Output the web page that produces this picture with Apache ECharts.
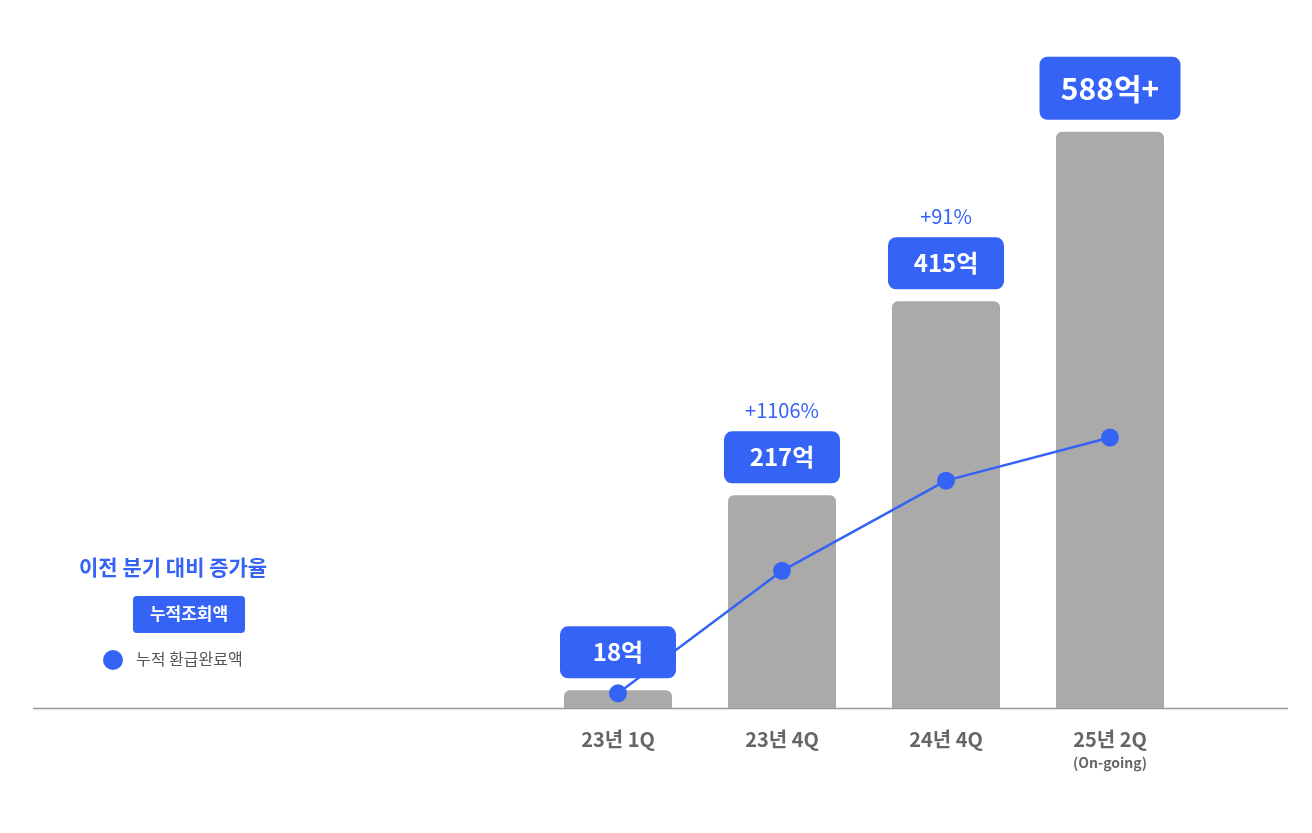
<!DOCTYPE html>
<html><head><meta charset="utf-8">
<script src="https://cdn.jsdelivr.net/npm/echarts@6/dist/echarts.min.js"></script>
<style>html,body{margin:0;background:#fff}#c{width:1312px;height:833px}</style>
</head><body><div id="c"></div>
<script>
const categories = ['', '', '', '23년 1Q', '23년 4Q', '24년 4Q', '25년 2Q'];
const barValues = [null, null, null, 18, 217, 415, 588];
const barLabels = ['', '', '', '18억', '217억', '415억', '588억+'];
const growthLabels = ['', '', '', '', '+1106%', '+91%', ''];
const refundValues = [null, null, null, 15, 140, 232, 276];

const BLUE = '#3563f6';
const font = '"Noto Sans CJK KR", "Noto Sans", sans-serif';
const chart = echarts.init(document.getElementById('c'));

chart.setOption({
  animation: false,
  textStyle: {fontFamily: font},
  grid: {left: 44, right: 120, top: 22, bottom: 125},
  xAxis: {
    type: 'category', data: categories,
    axisLine: {show: false}, axisTick: {show: false},
    axisLabel: {
      margin: 18,
      formatter: v => v === '25년 2Q' ? '{a|' + v + '}\n{s|(On-going)}' : '{a|' + v + '}',
      rich: {
        a: {fontSize: 20, fontWeight: 'bold', color: '#666', fontFamily: font, lineHeight: 26},
        s: {fontSize: 14, fontWeight: 'bold', color: '#666', fontFamily: font, lineHeight: 22}
      }
    }
  },
  yAxis: {type: 'value', min: 0, max: 700, show: false},
  series: [{
    type: 'bar', data: barValues, barWidth: 108,
    itemStyle: {color: '#aaaaaa', borderRadius: [6, 6, 0, 0]},
    label: {
      show: true, position: 'top', distance: 12,
      formatter: p => {
        const i = p.dataIndex;
        const big = i === 6;
        let s = '';
        if (growthLabels[i]) s += '{p|' + growthLabels[i] + '}\n';
        return s + (big ? '{B|' + barLabels[i] + '}' : '{b|' + barLabels[i] + '}');
      },
      rich: {
        p: {color: BLUE, fontSize: 20, fontFamily: font, lineHeight: 42, padding: [0, 0, 0, 0]},
        b: {color: '#fff', fontSize: 24, fontWeight: 'bold', fontFamily: font, backgroundColor: BLUE,
            borderRadius: 8, width: 116, height: 52, align: 'center', lineHeight: 52},
        B: {color: '#fff', fontSize: 30, fontWeight: 'bold', fontFamily: font, backgroundColor: BLUE,
            borderRadius: 8, width: 141, height: 63, align: 'center', lineHeight: 63}
      }
    }
  }, {
    type: 'line', data: refundValues, connectNulls: false,
    symbol: 'circle', symbolSize: 18,
    lineStyle: {color: BLUE, width: 2.5}, itemStyle: {color: BLUE}
  }],
  graphic: [
    {type: 'line', shape: {x1: 33, y1: 708.5, x2: 1288, y2: 708.5}, style: {stroke: '#999', lineWidth: 1.5}},
    {type: 'text', left: 79, top: 557, style: {text: '이전 분기 대비 증가율', fill: BLUE, font: 'bold 21px ' + font}},
    {type: 'rect', shape: {x: 133, y: 596, width: 112, height: 37, r: 4}, style: {fill: BLUE}},
    {type: 'text', x: 189, y: 614, style: {text: '누적조회액', fill: '#fff', font: 'bold 17px ' + font, align: 'center', verticalAlign: 'middle'}},
    {type: 'circle', shape: {cx: 113, cy: 660, r: 10}, style: {fill: BLUE}},
    {type: 'text', x: 136, y: 659, style: {text: '누적 환급완료액', fill: '#555', font: '16px ' + font, verticalAlign: 'middle'}}
  ]
});
</script></body></html>
